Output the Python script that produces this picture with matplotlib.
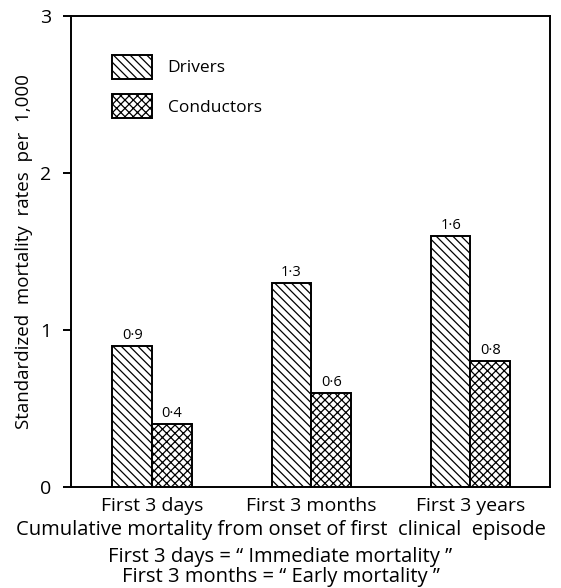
import matplotlib
matplotlib.use("Agg")
import matplotlib.pyplot as plt
import numpy as np

plt.rcParams["font.family"] = ["Open Sans", "DejaVu Sans"]
plt.rcParams["hatch.linewidth"] = 0.9

periods = ["First 3 days", "First 3 months", "First 3 years"]
drivers = [0.9, 1.3, 1.6]
conductors = [0.4, 0.6, 0.8]
driver_labels = ["0·9", "1·3", "1·6"]
conductor_labels = ["0·4", "0·6", "0·8"]

fig = plt.figure(figsize=(5.61, 5.88), dpi=100)
ax = fig.add_axes([0.1266, 0.1718, 0.8538, 0.801])

x = np.arange(len(periods))
w = 0.25
ax.bar(x - w / 2, drivers, w, facecolor="white", edgecolor="black",
       linewidth=1.4, hatch="\\\\\\\\", label="Drivers")
ax.bar(x + w / 2, conductors, w, facecolor="white", edgecolor="black",
       linewidth=1.4, hatch="xxxx", label="Conductors")

for xi, v, s in zip(x - w / 2, drivers, driver_labels):
    ax.text(xi, v + 0.02, s, ha="center", va="bottom", fontsize=10.5)
for xi, v, s in zip(x + w / 2, conductors, conductor_labels):
    ax.text(xi, v + 0.02, s, ha="center", va="bottom", fontsize=10.5)

ax.set_xlim(-0.51, 2.5)
ax.set_ylim(0, 3)
ax.set_yticks([0, 1, 2, 3])
ax.set_xticks(x)
ax.set_xticklabels(periods, fontsize=14)
ax.tick_params(axis="x", length=0, pad=7)
ax.tick_params(axis="y", length=6, width=1.4, labelsize=14, pad=8)
for sp in ax.spines.values():
    sp.set_linewidth(1.4)

ax.set_ylabel("Standardized  mortality  rates  per  1,000", fontsize=13.5, labelpad=5)

ax.legend(loc="upper left", bbox_to_anchor=(0.0856, 0.918), frameon=False,
          fontsize=12.5, handlelength=2.3, handleheight=1.75, labelspacing=0.9,
          handletextpad=0.9, borderpad=0, borderaxespad=0)

fig.text(0.5, 0.099, "Cumulative mortality from onset of first  clinical  episode",
         ha="center", va="center", fontsize=14.5)
fig.text(0.5, 0.053, "First 3 days = “ Immediate mortality ”",
         ha="center", va="center", fontsize=14.5)
fig.text(0.5, 0.018, "First 3 months = “ Early mortality ”",
         ha="center", va="center", fontsize=14.5)

fig.savefig("out.png", dpi=100)
